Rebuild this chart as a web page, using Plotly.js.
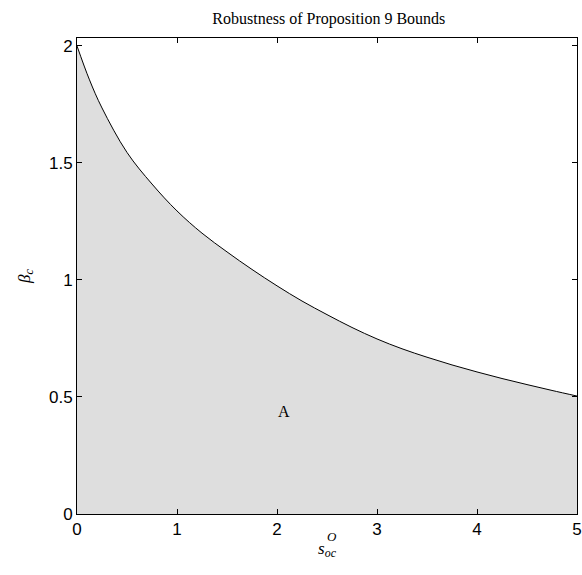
<!DOCTYPE html>
<html>
<head>
<meta charset="utf-8">
<script src="https://cdn.plot.ly/plotly-3.0.1.min.js"></script>
<style>html,body{margin:0;padding:0;background:#fff;}</style>
</head>
<body>
<div id="chart" style="width:582px;height:575px;"></div>
<script>
// Data
var sValues = [0, 0.125, 0.25, 0.5, 0.75, 1, 1.25, 1.5, 1.75, 2, 2.25, 2.5, 2.75, 3, 3.25, 3.5, 3.75, 4, 4.25, 4.5, 4.75, 5];
var betaValues = [2.00, 1.855, 1.735, 1.545, 1.41, 1.295, 1.20, 1.12, 1.045, 0.975, 0.91, 0.852, 0.797, 0.748, 0.706, 0.67, 0.637, 0.607, 0.579, 0.553, 0.528, 0.504];
var xTicks = [0, 1, 2, 3, 4, 5];
var yTicks = [0, 0.5, 1, 1.5, 2];
var yTickLabels = ['0', '0.5', '1', '1.5', '2'];
var regionLabel = {text: 'A', s: 2.07, beta: 0.44};

var trace = {
  x: sValues,
  y: betaValues,
  type: 'scatter',
  mode: 'lines',
  line: {color: '#000', width: 1, shape: 'spline', smoothing: 1},
  fill: 'tozeroy',
  fillcolor: '#dedede',
  hoverinfo: 'x+y',
  showlegend: false
};

var serif = '"Liberation Serif", "DejaVu Serif", serif';
var sans = '"Liberation Sans", Arial, sans-serif';

var layout = {
  width: 582,
  height: 575,
  margin: {l: 77, r: 5, t: 38, b: 61},
  paper_bgcolor: '#fff',
  plot_bgcolor: '#fff',
  title: {
    text: 'Robustness of Proposition 9 Bounds',
    font: {family: serif, size: 16, color: '#000'},
    x: 0.565, xanchor: 'center', y: 0.968, yanchor: 'middle'
  },
  xaxis: {
    range: [0, 5],
    tickvals: xTicks,
    ticktext: xTicks.map(String),
    ticks: 'inside', ticklen: 5, tickcolor: '#000', tickwidth: 1,
    showline: true, linecolor: '#000', linewidth: 1, mirror: 'ticks',
    showgrid: false, zeroline: false,
    tickfont: {family: sans, size: 17, color: '#000'},
    title: {text: '<i>s</i><sub><i>oc</i></sub>', font: {family: serif, size: 17, color: '#000'}, standoff: 3}
  },
  yaxis: {
    range: [0, 2.034],
    tickvals: yTicks,
    ticktext: yTickLabels,
    ticks: 'inside', ticklen: 5, tickcolor: '#000', tickwidth: 1,
    showline: true, linecolor: '#000', linewidth: 1, mirror: 'ticks',
    showgrid: false, zeroline: false,
    tickfont: {family: sans, size: 17, color: '#000'},
    title: {text: '<i>β</i><sub><i>c</i></sub>', font: {family: serif, size: 17, color: '#000'}, standoff: 14}
  },
  annotations: [
    {
      x: regionLabel.s, y: regionLabel.beta, xref: 'x', yref: 'y',
      text: regionLabel.text, showarrow: false,
      font: {family: serif, size: 16, color: '#000'}
    },
    {
      x: (332 - 77) / 500, y: -(536 - 514) / 476, xref: 'paper', yref: 'paper',
      xanchor: 'center', yanchor: 'middle',
      text: '<i>O</i>', showarrow: false,
      font: {family: serif, size: 13, color: '#000'}
    }
  ]
};

Plotly.newPlot('chart', [trace], layout, {displayModeBar: false, staticPlot: true});
</script>
</body>
</html>
